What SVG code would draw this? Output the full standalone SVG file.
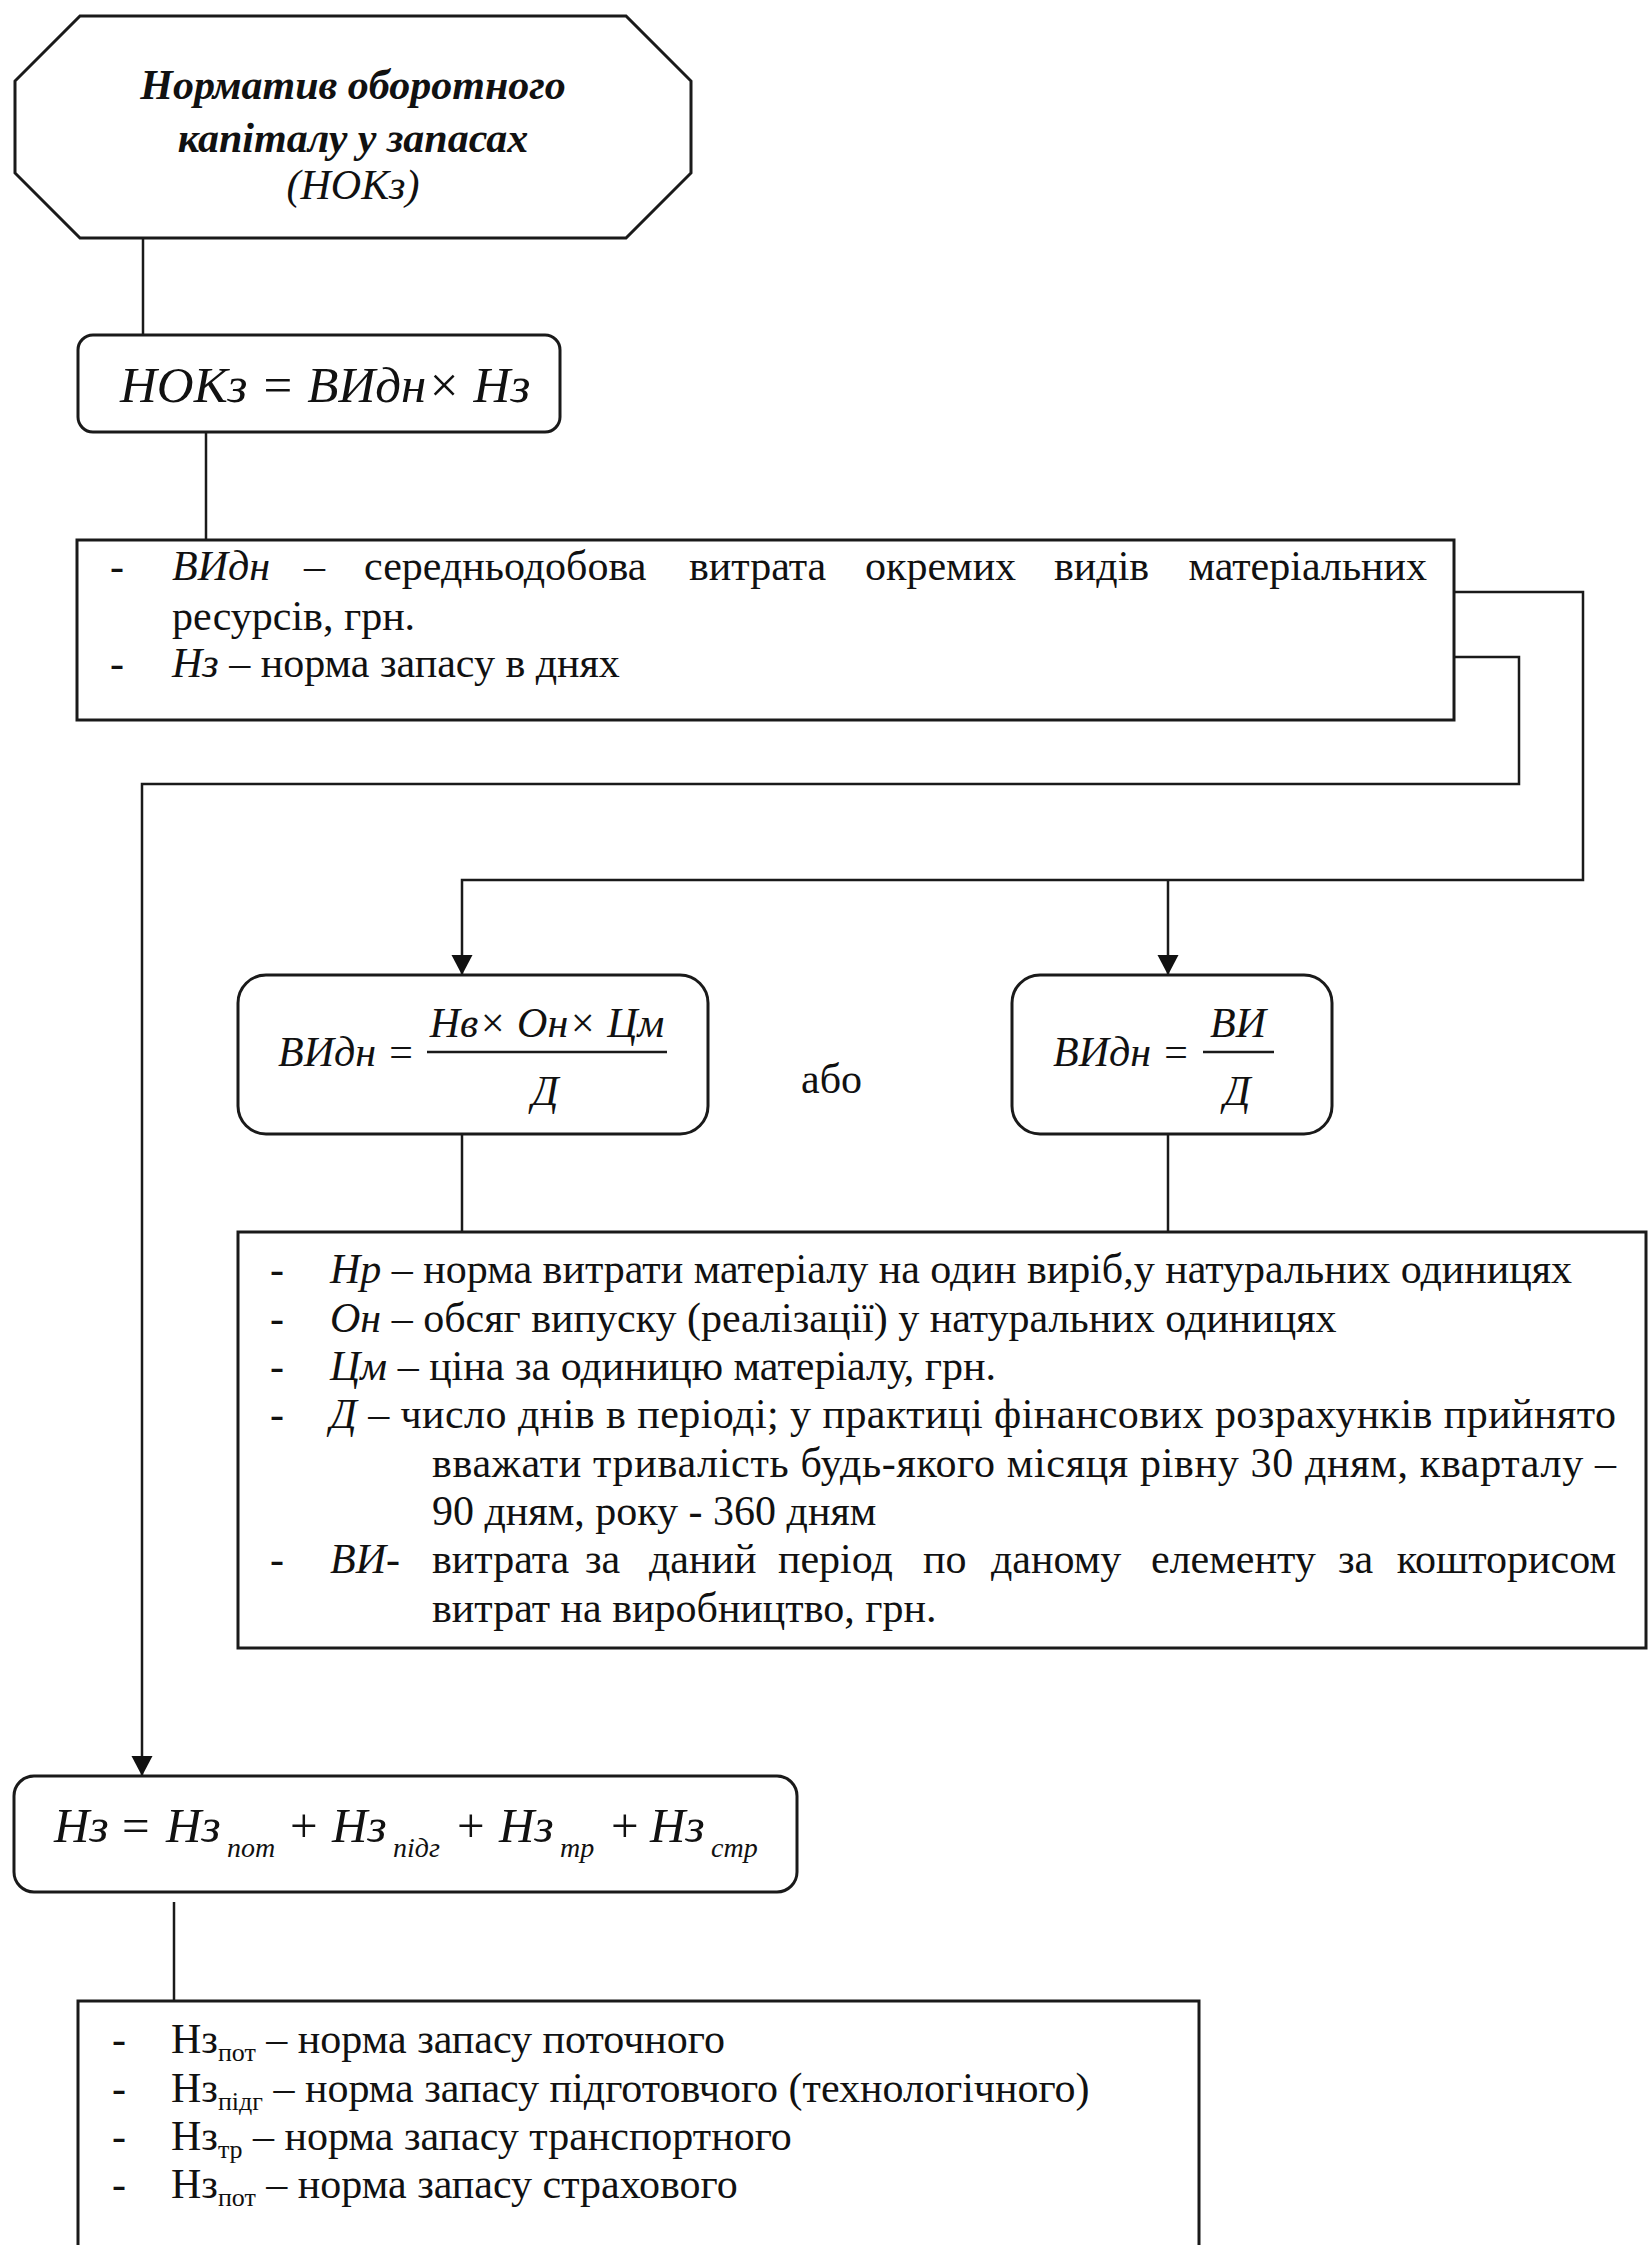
<svg xmlns="http://www.w3.org/2000/svg" width="1651" height="2245" viewBox="0 0 1651 2245">
<style>
.box{fill:#fff;stroke:#1a1a1a;stroke-width:3}
.conn{fill:none;stroke:#1a1a1a;stroke-width:2.5}
.t{font-family:"Liberation Serif","Times New Roman",serif;font-size:42px;fill:#111}
.i{font-style:italic}
.b{font-weight:bold}
.f{font-family:"Liberation Serif","Times New Roman",serif;font-style:italic;fill:#111}
.bar{stroke:#1a1a1a;stroke-width:2.5}
</style>
<defs>
<marker id="arr" markerUnits="userSpaceOnUse" markerWidth="22" markerHeight="22" viewBox="0 0 22 22" refX="20" refY="10.5" orient="auto">
<path d="M0,0 L20,10.5 L0,21 Z" fill="#111"/>
</marker>
</defs>
<rect width="1651" height="2245" fill="#fff"/>

<g id="connectors">
<path class="conn" d="M143 238 V335"/>
<path class="conn" d="M206 432 V540"/>
<path class="conn" d="M1454 592 H1583 V880 H462 V975" marker-end="url(#arr)"/>
<path class="conn" d="M1168 880 V975" marker-end="url(#arr)"/>
<path class="conn" d="M1454 657 H1519 V784 H142 V1776" marker-end="url(#arr)"/>
<path class="conn" d="M462 1134 V1232"/>
<path class="conn" d="M1168 1134 V1232"/>
<path class="conn" d="M174 1902 V2001"/>
</g>

<g id="title">
<polygon class="box" points="80,16 626,16 691,81 691,173 626,238 80,238 15,173 15,81"/>
<text class="t b i" x="353" y="99" text-anchor="middle" font-size="43">Норматив оборотного</text>
<text class="t b i" x="353" y="152" text-anchor="middle" font-size="43">капіталу у запасах</text>
<text class="t i" x="353" y="199" text-anchor="middle" font-size="43">(НОКз)</text>
</g>

<g id="formula-nokz">
<rect class="box" x="78" y="335" width="482" height="97" rx="15"/>
<text class="f" x="120" y="402" font-size="51">НОКз = ВИдн× Нз</text>
</g>

<g id="legend-1">
<rect class="box" x="77" y="540" width="1377" height="180"/>
<text class="t" x="110" y="580">-</text>
<text class="t i" x="172" y="580">ВИдн</text>
<text class="t" x="304" y="580">–</text>
<text class="t" x="364" y="580">середньодобова</text>
<text class="t" x="689" y="580">витрата</text>
<text class="t" x="865" y="580">окремих</text>
<text class="t" x="1054" y="580">видів</text>
<text class="t" x="1427" y="580" text-anchor="end">матеріальних</text>
<text class="t" x="172" y="630">ресурсів, грн.</text>
<text class="t" x="110" y="677">-</text>
<text class="t" x="172" y="677"><tspan class="i">Нз</tspan> – норма запасу в днях</text>
</g>

<g id="formula-vidn-1">
<rect class="box" x="238" y="975" width="470" height="159" rx="28"/>
<text class="f" x="278" y="1066" font-size="42">ВИдн =</text>
<line class="bar" x1="427" y1="1052" x2="667" y2="1052"/>
<text class="f" x="547" y="1037" font-size="42" text-anchor="middle">Нв× Он× Цм</text>
<text class="f" x="545" y="1105" font-size="42" text-anchor="middle">Д</text>
</g>

<g id="or-label">
<text class="t" x="801" y="1093">або</text>
</g>

<g id="formula-vidn-2">
<rect class="box" x="1012" y="975" width="320" height="159" rx="28"/>
<text class="f" x="1053" y="1066" font-size="42">ВИдн =</text>
<line class="bar" x1="1203" y1="1052" x2="1274" y2="1052"/>
<text class="f" x="1238" y="1037" font-size="42" text-anchor="middle">ВИ</text>
<text class="f" x="1237" y="1105" font-size="42" text-anchor="middle">Д</text>
</g>

<g id="legend-2">
<rect class="box" x="238" y="1232" width="1408" height="416"/>
<text class="t" x="270" y="1283">-</text>
<text class="t" x="330" y="1283"><tspan class="i">Нр</tspan> – норма витрати матеріалу на один виріб,у натуральних одиницях</text>
<text class="t" x="270" y="1332">-</text>
<text class="t" x="330" y="1332"><tspan class="i">Он</tspan> – обсяг випуску (реалізації) у натуральних одиницях</text>
<text class="t" x="270" y="1380">-</text>
<text class="t" x="330" y="1380"><tspan class="i">Цм</tspan> – ціна за одиницю матеріалу, грн.</text>
<text class="t" x="270" y="1428">-</text>
<text class="t" x="330" y="1428" textLength="1286" lengthAdjust="spacing"><tspan class="i">Д</tspan> – число днів в періоді; у практиці фінансових розрахунків прийнято</text>
<text class="t" x="432" y="1477" textLength="1184" lengthAdjust="spacing">вважати тривалість будь-якого місяця рівну 30 дням, кварталу –</text>
<text class="t" x="432" y="1525">90 дням, року - 360 дням</text>
<text class="t" x="270" y="1573">-</text>
<text class="t i" x="330" y="1573">ВИ-</text>
<text class="t" x="432" y="1573">витрата</text>
<text class="t" x="585" y="1573">за</text>
<text class="t" x="649" y="1573">даний</text>
<text class="t" x="778" y="1573">період</text>
<text class="t" x="923" y="1573">по</text>
<text class="t" x="991" y="1573">даному</text>
<text class="t" x="1151" y="1573">елементу</text>
<text class="t" x="1338" y="1573">за</text>
<text class="t" x="1616" y="1573" text-anchor="end">кошторисом</text>
<text class="t" x="432" y="1622">витрат на виробництво, грн.</text>
</g>

<g id="formula-nz">
<rect class="box" x="14" y="1776" width="783" height="116" rx="20"/>
<text class="f" font-size="49" y="1842">
<tspan x="54">Нз</tspan><tspan x="122" font-style="normal">=</tspan><tspan x="166">Нз</tspan><tspan x="227" y="1857" font-size="28">пот</tspan><tspan x="290" y="1842" font-style="normal">+</tspan><tspan x="332">Нз</tspan><tspan x="393" y="1857" font-size="28">підг</tspan><tspan x="457" y="1842" font-style="normal">+</tspan><tspan x="499">Нз</tspan><tspan x="560" y="1857" font-size="28">тр</tspan><tspan x="611" y="1842" font-style="normal">+</tspan><tspan x="650">Нз</tspan><tspan x="711" y="1857" font-size="28">стр</tspan>
</text>
</g>

<g id="legend-3">
<rect class="box" x="78" y="2001" width="1121" height="270"/>
<text class="t" x="112" y="2053">-</text>
<text class="t" x="171" y="2053">Нз<tspan font-size="26" dy="8">пот</tspan><tspan dy="-8"> – норма запасу поточного</tspan></text>
<text class="t" x="112" y="2102">-</text>
<text class="t" x="171" y="2102">Нз<tspan font-size="26" dy="8">підг</tspan><tspan dy="-8"> – норма запасу підготовчого (технологічного)</tspan></text>
<text class="t" x="112" y="2150">-</text>
<text class="t" x="171" y="2150">Нз<tspan font-size="26" dy="8">тр</tspan><tspan dy="-8"> – норма запасу транспортного</tspan></text>
<text class="t" x="112" y="2198">-</text>
<text class="t" x="171" y="2198">Нз<tspan font-size="26" dy="8">пот</tspan><tspan dy="-8"> – норма запасу страхового</tspan></text>
</g>
</svg>
